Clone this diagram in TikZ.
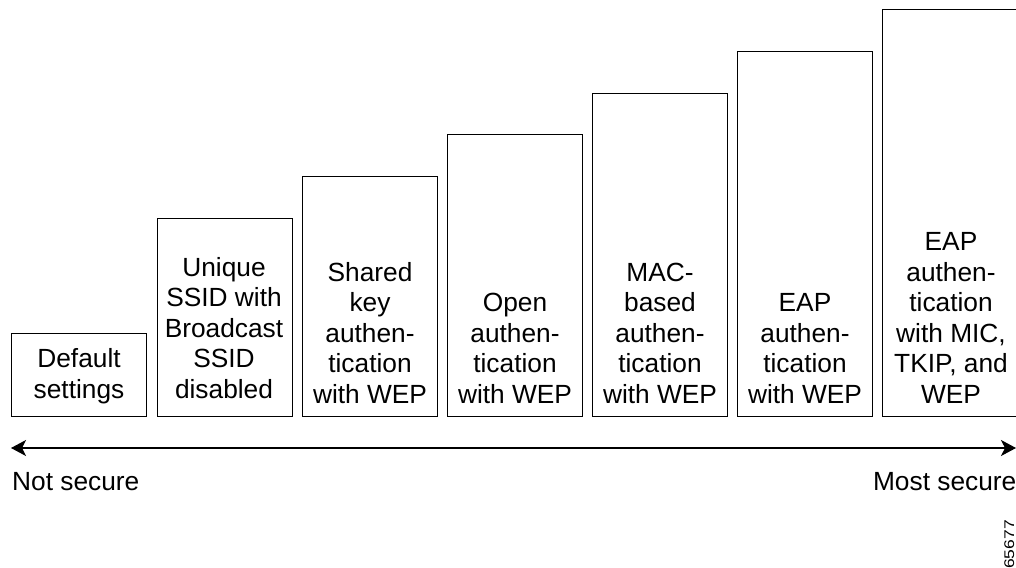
\documentclass[tikz,border=0pt]{standalone}
\usepackage{fontspec}
\setmainfont{Liberation Sans}
\usetikzlibrary{arrows.meta}
\tikzset{
  box/.style={draw=black, line width=1.1pt, minimum width=135pt, inner sep=0pt, anchor=south west},
  lbl/.style={inner sep=0pt, anchor=base, font=\fontsize{26.3}{30.5}\selectfont},
  scalearrow/.style={line width=1.1pt, arrows={Stealth[length=15pt, width=16pt, inset=4pt]-Stealth[length=15pt, width=16pt, inset=4pt]}}
}
\begin{document}
\begin{tikzpicture}[x=1pt,y=-1pt]
\useasboundingbox (0,0) rectangle (1016,567);
% boxes
\node[box, minimum height=83pt] (b1) at (11,417) {};
\node[box, minimum height=198pt] (b2) at (156.5,417) {};
\node[box, minimum height=240pt] (b3) at (301.5,417) {};
\node[box, minimum height=282pt] (b4) at (447,417) {};
\node[box, minimum height=323pt] (b5) at (592,417) {};
\node[box, minimum height=365pt] (b6) at (737,417) {};
\node[box, minimum height=407pt, minimum width=140pt] (b7) at (882,417) {};
% labels
\node[lbl] (t1) at (79,398) {\begin{tabular}[b]{@{}c@{}}Default\\settings\end{tabular}};
\node[lbl] (t2) at (224,398) {\begin{tabular}[b]{@{}c@{}}Unique\\SSID with\\Broadcast\\SSID\\disabled\end{tabular}};
\node[lbl] (t3) at (370,403) {\begin{tabular}[b]{@{}c@{}}Shared\\key\\authen-\\tication\\with WEP\end{tabular}};
\node[lbl] (t4) at (515,403) {\begin{tabular}[b]{@{}c@{}}Open\\authen-\\tication\\with WEP\end{tabular}};
\node[lbl] (t5) at (660,403) {\begin{tabular}[b]{@{}c@{}}MAC-\\based\\authen-\\tication\\with WEP\end{tabular}};
\node[lbl] (t6) at (805,403) {\begin{tabular}[b]{@{}c@{}}EAP\\authen-\\tication\\with WEP\end{tabular}};
\node[lbl] (t7) at (951,403) {\begin{tabular}[b]{@{}c@{}}EAP\\authen-\\tication\\with MIC,\\TKIP, and\\WEP\end{tabular}};
% arrow
\coordinate (left) at (11,448);
\coordinate (right) at (1016,448);
\draw[scalearrow] (left) -- (right);
\node[lbl, anchor=base west] (ns) at (12,490.5) {Not secure};
\node[lbl, anchor=base east] (ms) at (1016.5,490.5) {Most secure};
\node[inner sep=0pt, rotate=90, anchor=south west, font=\fontsize{14}{14}\selectfont] (id) at (1014.5,569) {\scalebox{1.25}[1]{65677}};
\end{tikzpicture}
\end{document}
